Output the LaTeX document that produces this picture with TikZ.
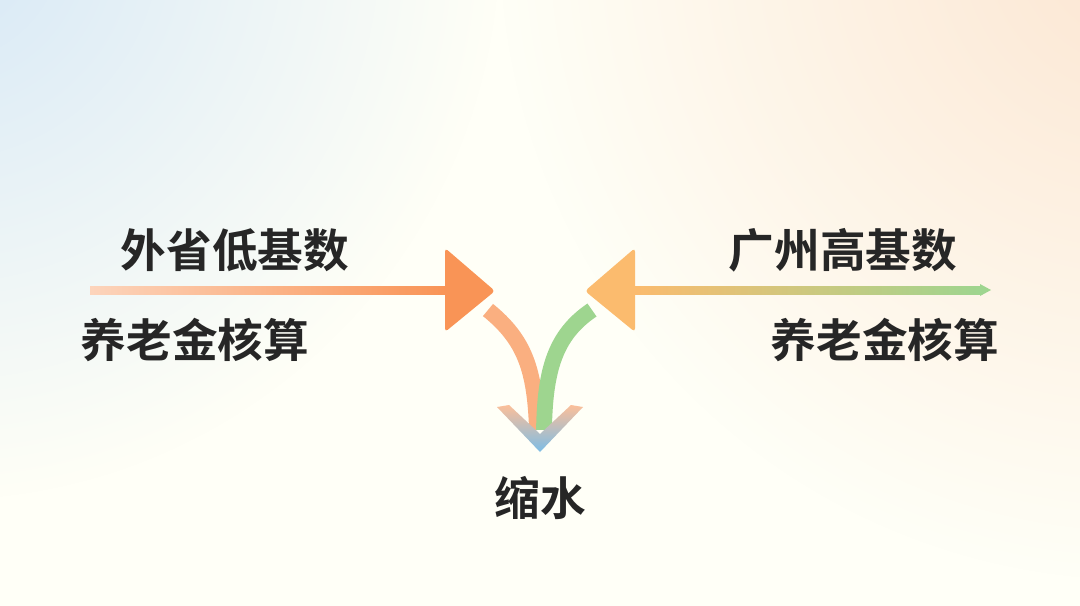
\documentclass[tikz,border=0pt]{standalone}
\usepackage{fontspec}
\newfontfamily\cjk{Noto Sans CJK SC}[BoldFont={Noto Sans CJK SC Bold}]
\usetikzlibrary{fadings}
\tikzfading[name=glow, inner color=transparent!0, outer color=transparent!100]
\definecolor{bgblue}{HTML}{D6E8F6}
\definecolor{bgpeach}{HTML}{FCE6D2}
\definecolor{arrorange}{HTML}{F99456}
\definecolor{arrlight}{HTML}{FBBB6E}
\definecolor{arrgreen}{HTML}{9ED58F}
\definecolor{arrblue}{HTML}{7CBDE6}
\tikzset{
  lbl/.style={font=\cjk\bfseries\fontsize{26}{26}\selectfont, text=black!85},
}
\begin{document}
\begin{tikzpicture}[x=0.02cm,y=-0.02cm]
\useasboundingbox (0,0) rectangle (1080,606);
% background
\begin{scope}
\clip (0,0) rectangle (1080,606);
\fill[white!97!yellow] (0,0) rectangle (1080,606);
\fill[bgblue,path fading=glow] (-60,-60) circle (560);
\fill[bgpeach,path fading=glow] (1140,-60) circle (640);
\end{scope}
% labels
\node[lbl] (lowbase) at (235,250) {外省低基数};
\node[lbl] (lowcalc) at (195,340) {养老金核算};
\node[lbl] (highbase) at (843,250) {广州高基数};
\node[lbl] (highcalc) at (885,340) {养老金核算};
\node[lbl] (shrink) at (540,498) {缩水};
% left arrow
\shade[left color=arrorange!40,right color=arrorange] (90,286) rectangle (446,294);
\fill[arrorange,rounded corners=2pt] (445,248) -- (495,291) -- (445,332) -- cycle;
% right arrow
\shade[left color=arrlight,right color=arrgreen] (634,286) rectangle (982,294);
\fill[arrgreen] (980,284) -- (991,290) -- (980,296) -- cycle;
\fill[arrlight,rounded corners=2pt] (635,248) -- (585,291) -- (635,332) -- cycle;
% merging arrows
\coordinate (ls) at (488,310);
\coordinate (rs) at (592,310);
\coordinate (tip) at (540,452);
\draw[arrorange!75,line width=9pt] (ls) .. controls (525,340) and (535,370) .. (537,430);
\draw[arrgreen,line width=9pt] (rs) .. controls (555,335) and (545,370) .. (544,430);
\shade[top color=arrorange!60,bottom color=arrblue]
  (497,407) -- (tip) -- (583,407) -- (571,405) -- (540,434) -- (509,405) -- cycle;
\end{tikzpicture}
\end{document}
